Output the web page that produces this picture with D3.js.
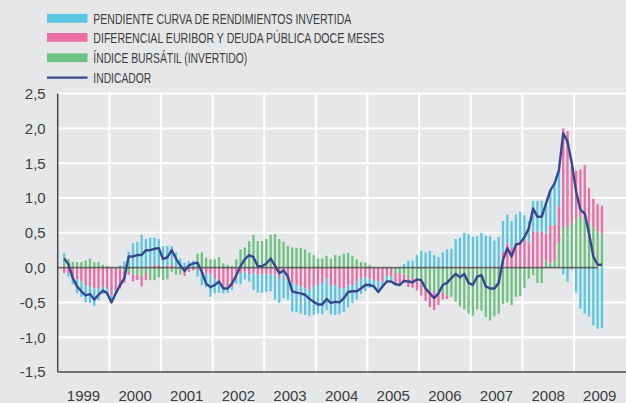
<!DOCTYPE html>
<html>
<head>
<meta charset="utf-8">
<script src="https://cdnjs.cloudflare.com/ajax/libs/d3/7.8.5/d3.min.js"></script>
<style>
  body { margin: 0; background: #e6e7e8; }
  svg { display: block; font-family: "Liberation Sans", Arial, sans-serif; }
</style>
</head>
<body>
<script>

// Monthly data, Feb 1999 - Jul 2009 (one line per year)
var firstMonth = 1; // months counted from Jan 1999

var bursatil = [
  0.08, 0.12, 0.08, 0.08, 0.08, 0.10, 0.13, 0.08, 0.08, 0.04, 0.02,
  0.00, 0.00, -0.02, -0.05, -0.06, -0.10, -0.10, -0.12, -0.08, -0.18, -0.18, -0.14,
  -0.18, -0.17, -0.06, -0.10, -0.10, -0.06, 0.05, 0.00, 0.20, 0.22, 0.14, 0.12,
  0.12, 0.15, 0.06, 0.04, 0.02, 0.12, 0.26, 0.29, 0.38, 0.47, 0.38, 0.38,
  0.41, 0.47, 0.48, 0.41, 0.37, 0.31, 0.29, 0.28, 0.28, 0.26, 0.22, 0.18,
  0.13, 0.13, 0.17, 0.13, 0.18, 0.17, 0.20, 0.21, 0.17, 0.12, 0.08, 0.07,
  0.04, 0.00, 0.00, 0.00, 0.00, -0.01, -0.08, -0.08, -0.10, -0.16, -0.15, -0.18,
  -0.22, -0.30, -0.33, -0.35, -0.36, -0.36, -0.40, -0.42, -0.49, -0.56, -0.60, -0.66,
  -0.69, -0.60, -0.62, -0.71, -0.76, -0.70, -0.66, -0.52, -0.50, -0.54, -0.42, -0.41,
  -0.29, -0.16, -0.11, -0.22, -0.22, 0.10, 0.06, 0.10, 0.35, 0.58, 0.60, 0.64,
  0.70, 0.75, 0.70, 0.63, 0.58, 0.52, 0.49
];

var diferencial = [
  -0.08, -0.08, -0.12, -0.17, -0.20, -0.25, -0.27, -0.30, -0.30, -0.28, -0.30,
  -0.40, -0.33, -0.28, -0.17, -0.04, -0.10, -0.08, -0.15, -0.10, 0.02, 0.04, 0.04,
  0.00, 0.03, 0.04, 0.00, 0.00, -0.06, -0.06, -0.04, -0.02, -0.10, -0.08, -0.10,
  -0.16, -0.20, -0.28, -0.30, -0.28, -0.16, -0.08, -0.06, -0.10, -0.08, -0.10, -0.10,
  -0.10, -0.10, -0.10, -0.15, -0.08, -0.18, -0.22, -0.25, -0.27, -0.30, -0.32, -0.27,
  -0.25, -0.22, -0.15, -0.25, -0.25, -0.29, -0.30, -0.25, -0.25, -0.20, -0.15, -0.14,
  -0.16, -0.18, -0.20, -0.20, -0.12, -0.12, -0.15, -0.16, -0.12, -0.12, -0.14, -0.15,
  -0.18, -0.18, -0.24, -0.26, -0.18, -0.10, -0.05, 0.00, 0.01, 0.02, 0.02, 0.02,
  0.01, 0.01, 0.01, 0.01, 0.01, 0.02, 0.02, 0.23, 0.35, 0.28, 0.35, 0.35,
  0.40, 0.36, 0.52, 0.52, 0.52, 0.39, 0.55, 0.51, 0.53, 1.42, 1.36, 0.81,
  0.69, 0.66, 0.77, 0.51, 0.41, 0.39, 0.40
];

var pendiente = [
  0.13, -0.05, -0.12, -0.20, -0.22, -0.25, -0.24, -0.25, -0.17, -0.10, -0.10,
  -0.10, -0.04, 0.03, 0.09, 0.23, 0.35, 0.37, 0.47, 0.41, 0.41, 0.39, 0.37,
  0.31, 0.28, 0.27, 0.22, 0.13, 0.07, 0.04, 0.10, -0.11, -0.15, -0.20, -0.32,
  -0.21, -0.16, -0.09, -0.06, -0.04, -0.07, -0.16, -0.11, -0.10, -0.24, -0.26, -0.26,
  -0.25, -0.24, -0.36, -0.36, -0.36, -0.28, -0.41, -0.39, -0.39, -0.38, -0.38, -0.41,
  -0.41, -0.45, -0.46, -0.42, -0.43, -0.38, -0.34, -0.32, -0.26, -0.26, -0.23, -0.20,
  -0.13, -0.09, -0.12, -0.06, -0.08, -0.07, 0.00, 0.00, 0.05, 0.10, 0.10, 0.18,
  0.24, 0.22, 0.24, 0.18, 0.15, 0.22, 0.26, 0.27, 0.40, 0.41, 0.48, 0.46,
  0.43, 0.44, 0.49, 0.45, 0.44, 0.37, 0.42, 0.44, 0.41, 0.39, 0.41, 0.45,
  0.35, 0.31, 0.44, 0.44, 0.44, 0.43, 0.50, 0.60, 0.52, -0.10, -0.20, -0.03,
  -0.36, -0.59, -0.66, -0.70, -0.83, -0.88, -0.87
];

var indicador = [
  0.13, 0.05, -0.15, -0.27, -0.34, -0.40, -0.38, -0.46, -0.39, -0.33, -0.37,
  -0.50, -0.37, -0.25, -0.15, 0.16, 0.16, 0.18, 0.18, 0.25, 0.25, 0.27, 0.28,
  0.12, 0.15, 0.25, 0.13, 0.03, -0.05, 0.03, 0.06, 0.07, -0.06, -0.23, -0.28,
  -0.25, -0.20, -0.30, -0.30, -0.23, -0.11, 0.02, 0.12, 0.18, 0.15, 0.02, 0.02,
  0.06, 0.13, 0.03, -0.08, -0.04, -0.13, -0.34, -0.36, -0.37, -0.39, -0.45, -0.49,
  -0.53, -0.53, -0.45, -0.51, -0.49, -0.50, -0.44, -0.35, -0.34, -0.34, -0.30, -0.25,
  -0.25, -0.27, -0.35, -0.27, -0.20, -0.20, -0.24, -0.25, -0.19, -0.20, -0.21, -0.17,
  -0.18, -0.30, -0.37, -0.44, -0.37, -0.25, -0.22, -0.15, -0.09, -0.14, -0.09, -0.22,
  -0.25, -0.13, -0.11, -0.27, -0.30, -0.30, -0.22, 0.11, 0.28, 0.16, 0.33, 0.35,
  0.44, 0.56, 0.85, 0.73, 0.73, 0.92, 1.11, 1.21, 1.40, 1.93, 1.81, 1.50,
  1.09, 0.83, 0.78, 0.49, 0.16, 0.04, 0.04
];

var years = ["1999", "2000", "2001", "2002", "2003", "2004", "2005", "2006", "2007", "2008", "2009"];
var yTicks = [-1.5, -1.0, -0.5, 0.0, 0.5, 1.0, 1.5, 2.0, 2.5];

var legendLabels = [
  "PENDIENTE CURVA DE RENDIMIENTOS INVERTIDA",
  "DIFERENCIAL EURIBOR Y DEUDA PÚBLICA DOCE MESES",
  "ÍNDICE BURSÁTIL (INVERTIDO)",
  "INDICADOR"
];

// colours / layout
var colors = { pendiente: "#5bc6e2", diferencial: "#ea6ea5", bursatil: "#70c280" };
var lineColor = "#35488f";
var legendWidths = [258, 291, 154, 58];

var svgWidth = 626;
var svgHeight = 403;

var svg = d3.select("body")
  .append("svg")
  .attr("width", svgWidth)
  .attr("height", svgHeight);

svg.append("rect")
  .attr("width", svgWidth)
  .attr("height", svgHeight)
  .attr("fill", "#e6e7e8");

// Scales
// ==============================
var xScale = d3.scaleLinear()
  .domain([0, years.length * 12])
  .range([57.7, 625.6]);

var yScale = d3.scaleLinear()
  .domain([-1.5, 2.5])
  .range([372, 93.6]);

// Grid
// ==============================
var grid = svg.append("g");

grid.selectAll(".hgrid")
  .data(yTicks.filter(d => d > -1.5))
  .enter()
  .append("line")
  .attr("x1", xScale(0))
  .attr("x2", svgWidth)
  .attr("y1", d => yScale(d))
  .attr("y2", d => yScale(d))
  .attr("stroke", "#ffffff")
  .attr("stroke-width", 2);

grid.selectAll(".vgrid")
  .data(d3.range(1, years.length))
  .enter()
  .append("line")
  .attr("x1", d => xScale(d * 12))
  .attr("x2", d => xScale(d * 12))
  .attr("y1", yScale(2.5))
  .attr("y2", yScale(-1.5))
  .attr("stroke", "#ffffff")
  .attr("stroke-width", 2);

// Stacked bars
// ==============================
var rows = pendiente.map(function(v, i) {
  return {
    month: firstMonth + i,
    bursatil: bursatil[i],
    diferencial: diferencial[i],
    pendiente: v
  };
});

var stack = d3.stack()
  .keys(["bursatil", "diferencial", "pendiente"])
  .offset(d3.stackOffsetDiverging);

var series = stack(rows);
var barW = 2.3;

svg.append("g")
  .selectAll("g")
  .data(series)
  .enter()
  .append("g")
  .attr("fill", d => colors[d.key])
  .selectAll("rect")
  .data(d => d)
  .enter()
  .append("rect")
  .attr("x", d => xScale(d.data.month + 0.5) - barW / 2)
  .attr("y", d => yScale(Math.max(d[0], d[1])))
  .attr("width", barW)
  .attr("height", d => Math.abs(yScale(d[0]) - yScale(d[1])));

// zero line
svg.append("line")
  .attr("x1", xScale(0))
  .attr("x2", xScale(firstMonth + pendiente.length - 1.5))
  .attr("y1", yScale(0))
  .attr("y2", yScale(0))
  .attr("stroke", "#505050")
  .attr("stroke-opacity", 0.85)
  .attr("stroke-width", 1.6);

// Indicator line
// ==============================
var line = d3.line()
  .x((d, i) => xScale(firstMonth + i + 0.5))
  .y(d => yScale(d));

svg.append("path")
  .datum(indicador)
  .attr("d", line)
  .attr("fill", "none")
  .attr("stroke", lineColor)
  .attr("stroke-width", 2.4)
  .attr("stroke-linejoin", "round");

// Axes
// ==============================
svg.append("line")
  .attr("x1", xScale(0))
  .attr("x2", xScale(0))
  .attr("y1", yScale(2.5))
  .attr("y2", yScale(-1.5))
  .attr("stroke", "#4a4a4a")
  .attr("stroke-width", 1.5);

svg.append("line")
  .attr("x1", xScale(0))
  .attr("x2", svgWidth)
  .attr("y1", yScale(-1.5))
  .attr("y2", yScale(-1.5))
  .attr("stroke", "#4a4a4a")
  .attr("stroke-width", 1.5);

var leftAxis = d3.axisLeft(yScale)
  .tickValues(yTicks)
  .tickSize(0)
  .tickPadding(12)
  .tickFormat(d => d3.format(".1f")(d).replace("−", "-").replace(".", ","));

var yAxisG = svg.append("g")
  .attr("transform", `translate(${xScale(0)},0)`)
  .call(leftAxis);

yAxisG.select(".domain").remove();
yAxisG.selectAll("text")
  .attr("font-family", "\"Liberation Sans\", Arial, sans-serif")
  .attr("font-size", 15)
  .attr("fill", "#3d3d3d");

svg.append("g")
  .selectAll("text")
  .data(years)
  .enter()
  .append("text")
  .attr("x", (d, i) => xScale(i * 12 + 6))
  .attr("y", 401)
  .attr("text-anchor", "middle")
  .attr("font-size", 15)
  .attr("fill", "#3d3d3d")
  .text(d => d);

// Legend
// ==============================
var legend = svg.append("g");
var legendKeys = ["pendiente", "diferencial", "bursatil"];
var rowY = [18.3, 37.4, 57.7, 77.7];

legendKeys.forEach(function(k, i) {
  legend.append("rect")
    .attr("x", 47)
    .attr("y", rowY[i] - 4.4)
    .attr("width", 40.5)
    .attr("height", 8.8)
    .attr("fill", colors[k]);
});

legend.append("line")
  .attr("x1", 47)
  .attr("x2", 87.5)
  .attr("y1", rowY[3])
  .attr("y2", rowY[3])
  .attr("stroke", lineColor)
  .attr("stroke-width", 2.2);

legend.selectAll("text")
  .data(legendLabels)
  .enter()
  .append("text")
  .attr("x", 93.3)
  .attr("y", (d, i) => rowY[i] + 5.2)
  .attr("font-size", 14)
  .attr("fill", "#3d3d3d")
  .attr("textLength", (d, i) => legendWidths[i])
  .attr("lengthAdjust", "spacingAndGlyphs")
  .text(d => d);

</script>
</body>
</html>
